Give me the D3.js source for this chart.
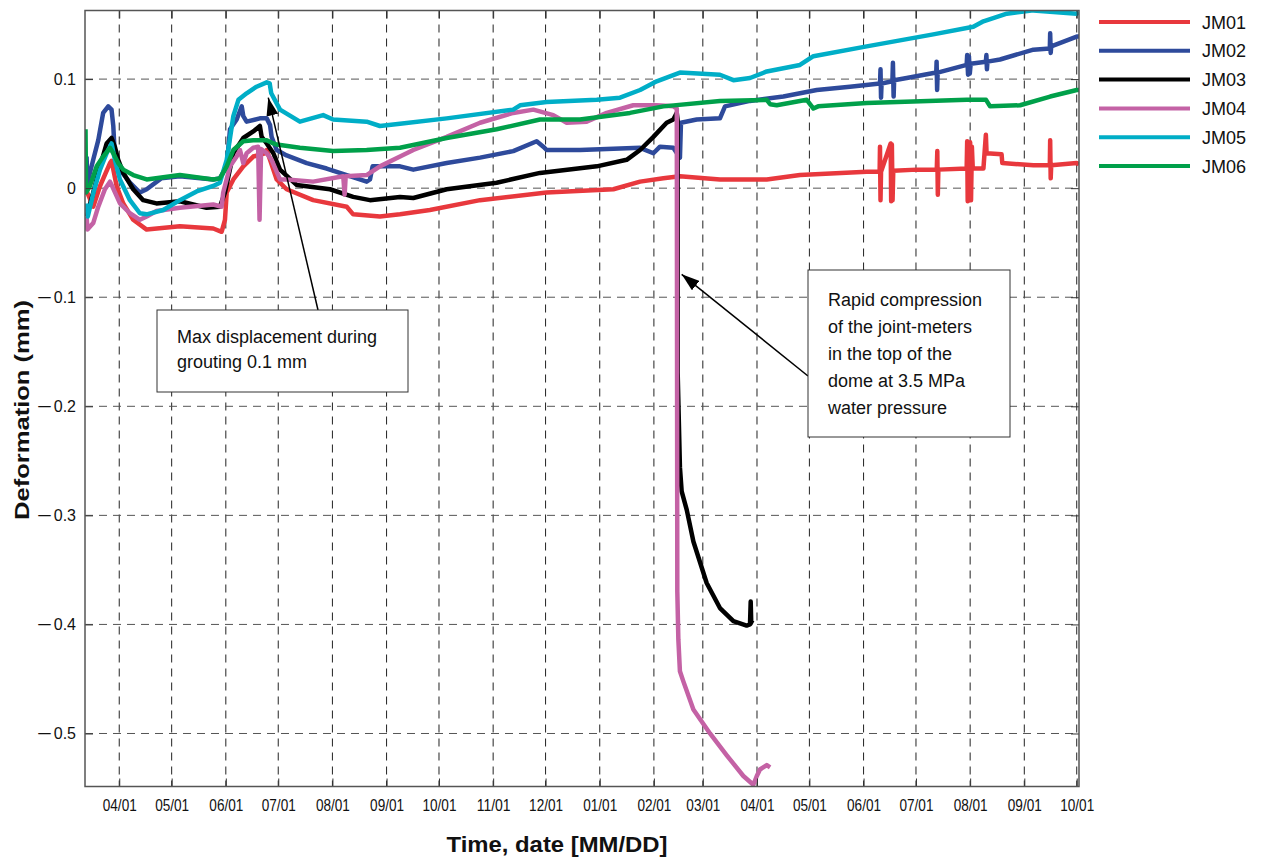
<!DOCTYPE html>
<html>
<head>
<meta charset="utf-8">
<script src="https://cdn.jsdelivr.net/npm/d3@7"></script>
<style>
  body { margin: 0; background: #fff; }
  svg { display: block; }
  .ytick text, .legend text, .note text { font-family: "Liberation Sans", Arial, sans-serif; fill: #111; }
  .xtick text, .axis-title { font-family: "Liberation Sans Narrow", "Liberation Sans", Arial, sans-serif; fill: #111; }
  .axis-title { font-weight: bold; }
  .series { fill: none; stroke-width: 4.5; stroke-linejoin: round; }
</style>
</head>
<body>
<svg id="chart"></svg>
<script>
// [days after 1 April 2013, deformation in mm]
const jm01 = [[-19.1, -0.001], [-14.9, -0.017], [-11.0, 0.002], [-5.3, 0.023], [-4.4, 0.025], [-1.5, 0.002],
  [2.3, -0.014], [8.0, -0.029], [15.7, -0.038], [34.7, -0.035], [53.8, -0.037], [58.6, -0.040], [60.5, -0.029],
  [61.5, -0.004], [65.3, 0.008], [71.0, 0.020], [76.7, 0.029], [83.4, 0.032], [84.4, 0.035], [86.3, 0.026],
  [90.1, 0.008], [95.8, -0.001], [111.0, -0.011], [130.2, -0.017], [133.9, -0.024], [149.2, -0.026],
  [160.7, -0.024], [177.8, -0.020], [206.5, -0.011], [244.6, -0.004], [282.8, -0.001], [298.1, 0.006],
  [311.4, 0.009], [320.9, 0.011], [343.8, 0.008], [370.6, 0.008], [389.6, 0.012], [427.8, 0.015],
  [435.2, 0.015], [435.4, 0.038], [435.7, -0.011], [436.0, 0.015], [441.5, 0.041], [441.8, -0.012],
  [442.2, 0.040], [442.6, -0.011], [443.0, 0.016], [456.4, 0.017], [467.9, 0.017], [468.2, 0.034],
  [468.5, -0.006], [468.8, 0.017], [485.0, 0.018], [485.3, 0.043], [485.6, -0.012], [486.0, 0.040],
  [486.4, -0.010], [487.0, 0.042], [487.5, -0.011], [488.0, 0.038], [488.5, 0.018], [494.6, 0.018],
  [496.0, 0.049], [496.4, 0.032], [505.0, 0.031], [505.4, 0.023], [523.2, 0.021], [532.6, 0.021],
  [532.8, 0.044], [533.1, 0.009], [533.4, 0.021], [548.0, 0.023], [549.3, 0.022]];

const jm02 = [[-18.7, 0.029], [-18.2, 0.005], [-14.9, 0.026], [-12.0, 0.044], [-9.2, 0.069], [-6.3, 0.075],
  [-4.4, 0.072], [-3.4, 0.057], [-2.5, 0.029], [0.4, 0.017], [6.1, 0.005], [11.8, -0.004], [15.7, -0.001],
  [24.0, 0.009], [34.7, 0.011], [53.8, 0.008], [57.6, 0.009], [61.5, 0.020], [63.4, 0.054], [67.2, 0.063],
  [70.1, 0.075], [71.0, 0.066], [72.9, 0.061], [80.5, 0.064], [84.4, 0.064], [86.3, 0.058], [87.2, 0.047],
  [90.1, 0.035], [95.8, 0.030], [107.3, 0.023], [118.7, 0.018], [130.2, 0.012], [141.6, 0.006],
  [143.5, 0.008], [145.0, 0.020], [160.7, 0.020], [168.3, 0.017], [187.4, 0.023], [206.5, 0.028],
  [225.5, 0.034], [238.9, 0.043], [242.7, 0.038], [244.6, 0.035], [263.7, 0.035], [298.1, 0.037],
  [305.7, 0.032], [309.5, 0.038], [317.1, 0.037], [320.9, 0.028], [321.5, 0.060], [330.5, 0.063],
  [343.8, 0.064], [346.7, 0.075], [361.0, 0.080], [380.1, 0.084], [399.2, 0.090], [418.2, 0.093],
  [435.4, 0.096], [435.7, 0.109], [436.0, 0.083], [436.3, 0.096], [442.5, 0.098], [442.8, 0.115],
  [443.2, 0.084], [443.5, 0.099], [450.7, 0.101], [467.6, 0.106], [467.8, 0.116], [468.1, 0.090],
  [468.4, 0.106], [485.0, 0.113], [485.3, 0.122], [485.8, 0.104], [486.3, 0.121], [486.8, 0.105],
  [487.3, 0.114], [496.0, 0.116], [496.3, 0.122], [496.6, 0.109], [496.9, 0.116], [504.1, 0.118],
  [523.2, 0.127], [532.6, 0.128], [532.8, 0.142], [533.1, 0.124], [533.4, 0.130], [548.0, 0.139],
  [549.3, 0.139]];

const jm03 = [[-18.7, -0.026], [-14.9, -0.004], [-11.0, 0.020], [-7.2, 0.041], [-4.4, 0.046], [-2.5, 0.038],
  [-0.6, 0.026], [2.3, 0.014], [8.0, -0.001], [13.7, -0.011], [21.3, -0.014], [34.7, -0.012], [50.0, -0.018],
  [57.6, -0.017], [60.5, -0.004], [65.3, 0.032], [71.0, 0.046], [76.7, 0.052], [80.5, 0.057], [81.5, 0.047],
  [84.4, 0.041], [88.2, 0.032], [92.0, 0.017], [101.5, 0.003], [120.6, -0.001], [133.9, -0.008],
  [143.5, -0.011], [160.7, -0.008], [168.3, -0.009], [187.4, -0.001], [216.0, 0.005], [240.8, 0.014],
  [273.3, 0.020], [290.4, 0.026], [298.1, 0.035], [305.7, 0.047], [313.3, 0.060], [317.1, 0.063],
  [319.1, 0.069], [319.6, 0.062], [319.6, -0.169], [320.9, -0.256], [321.9, -0.278], [324.8, -0.295],
  [328.6, -0.324], [336.2, -0.362], [343.8, -0.385], [351.5, -0.397], [359.1, -0.401], [361.0, -0.400],
  [361.4, -0.379], [361.7, -0.398], [362.9, -0.399]];

const jm04 = [[-18.7, -0.026], [-18.2, -0.038], [-14.9, -0.032], [-12.0, -0.017], [-8.2, -0.001], [-5.3, 0.006],
  [-4.4, 0.003], [0.4, -0.014], [6.1, -0.023], [11.8, -0.029], [15.7, -0.026], [21.3, -0.021], [34.7, -0.018],
  [53.8, -0.015], [58.6, -0.017], [59.5, -0.004], [63.4, 0.020], [67.2, 0.029], [69.1, 0.035], [71.0, 0.023],
  [72.9, 0.032], [76.7, 0.037], [79.5, 0.038], [80.3, -0.029], [81.2, 0.036], [84.4, 0.032], [87.2, 0.026],
  [92.0, 0.008], [95.8, 0.008], [111.0, 0.006], [128.2, 0.011], [129.0, -0.006], [129.6, 0.011],
  [141.6, 0.012], [149.2, 0.020], [160.7, 0.029], [168.3, 0.035], [187.4, 0.047], [206.5, 0.060],
  [225.5, 0.069], [237.0, 0.072], [248.4, 0.067], [256.1, 0.060], [267.5, 0.061], [279.0, 0.069],
  [294.2, 0.076], [307.6, 0.076], [317.1, 0.075], [319.1, 0.073], [319.4, -0.370], [320.0, -0.414],
  [320.9, -0.443], [322.8, -0.452], [328.6, -0.478], [338.1, -0.500], [347.7, -0.520], [357.2, -0.539],
  [362.9, -0.547], [364.9, -0.539], [366.7, -0.533], [370.6, -0.529], [372.5, -0.531]];

const jm05 = [[-18.7, -0.014], [-18.0, -0.026], [-14.3, -0.001], [-11.0, 0.017], [-7.2, 0.032], [-4.4, 0.041],
  [-2.5, 0.026], [0.4, 0.008], [6.1, -0.011], [11.8, -0.023], [15.7, -0.024], [25.2, -0.020], [34.7, -0.011],
  [44.3, -0.003], [53.8, 0.002], [57.6, 0.005], [61.5, 0.026], [65.3, 0.066], [68.2, 0.081], [72.9, 0.087],
  [78.6, 0.093], [84.4, 0.097], [86.1, 0.096], [87.0, 0.087], [92.0, 0.072], [103.4, 0.061], [116.7, 0.067],
  [122.4, 0.063], [141.6, 0.061], [149.2, 0.057], [160.7, 0.059], [187.4, 0.064], [225.5, 0.072],
  [229.4, 0.076], [244.6, 0.079], [273.3, 0.081], [286.6, 0.083], [298.1, 0.090], [307.6, 0.098],
  [320.9, 0.106], [343.8, 0.104], [351.5, 0.099], [361.0, 0.101], [370.6, 0.107], [389.6, 0.113],
  [397.3, 0.121], [427.8, 0.130], [465.9, 0.141], [488.8, 0.148], [494.6, 0.153], [508.0, 0.160],
  [523.2, 0.163], [548.0, 0.160], [549.3, 0.161]];

const jm06 = [[-19.3, 0.054], [-19.0, -0.004], [-16.8, 0.002], [-12.9, 0.020], [-9.2, 0.029], [-5.3, 0.037],
  [-3.4, 0.032], [-0.6, 0.023], [2.3, 0.017], [8.0, 0.012], [15.7, 0.008], [34.7, 0.012], [53.8, 0.008],
  [57.6, 0.009], [61.5, 0.020], [65.3, 0.035], [71.0, 0.043], [76.7, 0.044], [84.4, 0.044], [88.2, 0.041],
  [90.1, 0.040], [103.4, 0.037], [122.4, 0.034], [141.6, 0.035], [160.7, 0.037], [187.4, 0.046],
  [216.0, 0.054], [240.8, 0.063], [263.7, 0.063], [292.3, 0.069], [311.4, 0.075], [343.8, 0.080],
  [370.6, 0.081], [372.5, 0.077], [376.3, 0.076], [393.5, 0.081], [397.3, 0.073], [400.0, 0.075],
  [427.8, 0.078], [485.1, 0.081], [496.1, 0.081], [498.4, 0.075], [515.6, 0.076], [532.8, 0.084],
  [548.0, 0.090], [549.3, 0.090]];

const seriesNames = ['JM01', 'JM02', 'JM03', 'JM04', 'JM05', 'JM06'];
const seriesData = [jm01, jm02, jm03, jm04, jm05, jm06];
const seriesColors = ['#e8383d', '#2e4a9b', '#000000', '#c462a5', '#00aec7', '#00a04a'];
const yTicks = [-0.5, -0.4, -0.3, -0.2, -0.1, 0, 0.1];
const xRange = [-19.6, 549.3]; // days after 1 April 2013

const note1 = ['Max displacement during', 'grouting 0.1 mm'];
const note1Tip = [85.3, 0.083];
const note2 = ['Rapid compression', 'of the joint-meters', 'in the top of the', 'dome at 3.5 MPa', 'water pressure'];
const note2Tip = [321.9, -0.079];

const width = 1264, height = 858;
const margin = {top: 10.5, right: 185, bottom: 71.5, left: 85};
const gWidth = width - margin.left - margin.right;
const gHeight = height - margin.top - margin.bottom;

const base = Date.UTC(2013, 3, 1);
const toDate = d => new Date(base + d * 864e5);

const xScale = d3.scaleUtc()
  .domain(xRange.map(toDate))
  .range([0, gWidth]);
const yScale = d3.scaleLinear()
  .domain([-0.5486, 0.1629])
  .range([gHeight, 0]);

const svg = d3.select('#chart')
  .attr('width', width)
  .attr('height', height);

const defs = svg.append('defs');
defs.append('clipPath').attr('id', 'plot-clip')
  .append('rect').attr('width', gWidth).attr('height', gHeight);
defs.append('marker')
  .attr('id', 'arrow')
  .attr('markerUnits', 'userSpaceOnUse')
  .attr('viewBox', '0 0 18 12')
  .attr('refX', 18).attr('refY', 6)
  .attr('markerWidth', 18).attr('markerHeight', 12)
  .attr('orient', 'auto')
  .append('path').attr('d', 'M0,0 L18,6 L0,12 Z').attr('fill', '#000');

const g = svg.append('g')
  .attr('transform', `translate(${margin.left}, ${margin.top})`);

const months = xScale.ticks(d3.utcMonth.every(1));

// dashed grid
g.append('g').selectAll('line')
  .data(months)
  .join('line')
  .attr('x1', d => xScale(d)).attr('x2', d => xScale(d))
  .attr('y1', 0).attr('y2', gHeight)
  .attr('stroke', '#222').attr('stroke-width', 1)
  .attr('stroke-dasharray', '8,6');
g.append('g').selectAll('line')
  .data(yTicks)
  .join('line')
  .attr('x1', 0).attr('x2', gWidth)
  .attr('y1', d => yScale(d)).attr('y2', d => yScale(d))
  .attr('stroke', '#555').attr('stroke-width', 1)
  .attr('stroke-dasharray', '8,6');

// series
const lineGen = d3.line()
  .x(d => xScale(toDate(d[0])))
  .y(d => yScale(d[1]));
g.append('g')
  .attr('clip-path', 'url(#plot-clip)')
  .selectAll('path')
  .data(seriesData)
  .join('path')
  .attr('class', 'series')
  .attr('stroke', (_, i) => seriesColors[i])
  .attr('d', lineGen);

// axes with inward ticks
const xAxis = g.append('g')
  .attr('class', 'xtick')
  .attr('transform', `translate(0, ${gHeight})`)
  .call(d3.axisBottom(xScale)
    .tickValues(months)
    .tickFormat(d3.utcFormat('%m/%d'))
    .tickSizeInner(-8).tickSizeOuter(0).tickPadding(12));
xAxis.select('.domain').remove();
xAxis.selectAll('text')
  .attr('font-size', 17)
  .attr('textLength', 34).attr('lengthAdjust', 'spacingAndGlyphs');

const yAxis = g.append('g')
  .attr('class', 'ytick')
  .call(d3.axisLeft(yScale)
    .tickValues(yTicks)
    .tickFormat(d => d === 0 ? '0' : d3.format('.1f')(d))
    .tickSizeInner(-8).tickSizeOuter(0).tickPadding(9));
yAxis.select('.domain').remove();
yAxis.selectAll('text')
  .attr('font-size', 16)
  .each(function (d) {
    if (d >= 0) return;
    // long minus sign as in the original
    const t = d3.select(this).text('');
    t.append('tspan').attr('textLength', 15).attr('lengthAdjust', 'spacingAndGlyphs').text('\u2212');
    t.append('tspan').attr('dx', 2).text(d3.format('.1f')(-d));
  });

const topAxis = g.append('g')
  .call(d3.axisTop(xScale).tickValues(months).tickFormat('').tickSizeInner(-8).tickSizeOuter(0));
topAxis.select('.domain').remove();
const rightAxis = g.append('g')
  .attr('transform', `translate(${gWidth}, 0)`)
  .call(d3.axisRight(yScale).tickValues(yTicks).tickFormat('').tickSizeInner(-8).tickSizeOuter(0));
rightAxis.select('.domain').remove();
g.selectAll('.tick line').attr('stroke', '#333');

g.append('rect')
  .attr('width', gWidth).attr('height', gHeight)
  .attr('fill', 'none').attr('stroke', '#555').attr('stroke-width', 1.5);

// axis titles
svg.append('text')
  .attr('class', 'axis-title')
  .attr('x', 557).attr('y', 852)
  .attr('text-anchor', 'middle')
  .attr('font-size', 22)
  .attr('textLength', 221).attr('lengthAdjust', 'spacingAndGlyphs')
  .text('Time, date [MM/DD]');
svg.append('text')
  .attr('class', 'axis-title')
  .attr('transform', 'translate(29, 410) rotate(-90)')
  .attr('text-anchor', 'middle')
  .attr('font-size', 21)
  .attr('textLength', 220).attr('lengthAdjust', 'spacingAndGlyphs')
  .text('Deformation (mm)');

// legend
const legend = svg.append('g')
  .attr('class', 'legend')
  .attr('transform', 'translate(1099, 22)');
const rows = legend.selectAll('g')
  .data(seriesNames)
  .join('g')
  .attr('transform', (_, i) => `translate(0, ${i * 28.8})`);
rows.append('line')
  .attr('x1', 0).attr('x2', 91)
  .attr('stroke', (_, i) => seriesColors[i])
  .attr('stroke-width', 4);
rows.append('text')
  .attr('x', 103).attr('y', 6.5)
  .attr('font-size', 18)
  .text(d => d);

// annotations
const drawNote = (lines, box, lineGap, from, tip) => {
  const note = svg.append('g').attr('class', 'note');
  note.append('line')
    .attr('x1', from[0]).attr('y1', from[1])
    .attr('x2', margin.left + xScale(toDate(tip[0])))
    .attr('y2', margin.top + yScale(tip[1]))
    .attr('stroke', '#000').attr('stroke-width', 1.5)
    .attr('marker-end', 'url(#arrow)');
  note.append('rect')
    .attr('x', box.x).attr('y', box.y)
    .attr('width', box.w).attr('height', box.h)
    .attr('fill', '#fff').attr('stroke', '#333').attr('stroke-width', 1);
  note.selectAll('text.line')
    .data(lines)
    .join('text')
    .attr('class', 'line')
    .attr('x', box.x + 20)
    .attr('y', (_, i) => box.ty + i * lineGap)
    .attr('font-size', 18)
    .text(d => d);
};
drawNote(note1, {x: 157, y: 310, w: 251, h: 82, ty: 343}, 25, [318, 310], note1Tip);
drawNote(note2, {x: 808, y: 270, w: 202, h: 167, ty: 306}, 27, [808, 376], note2Tip);
</script>
</body>
</html>
